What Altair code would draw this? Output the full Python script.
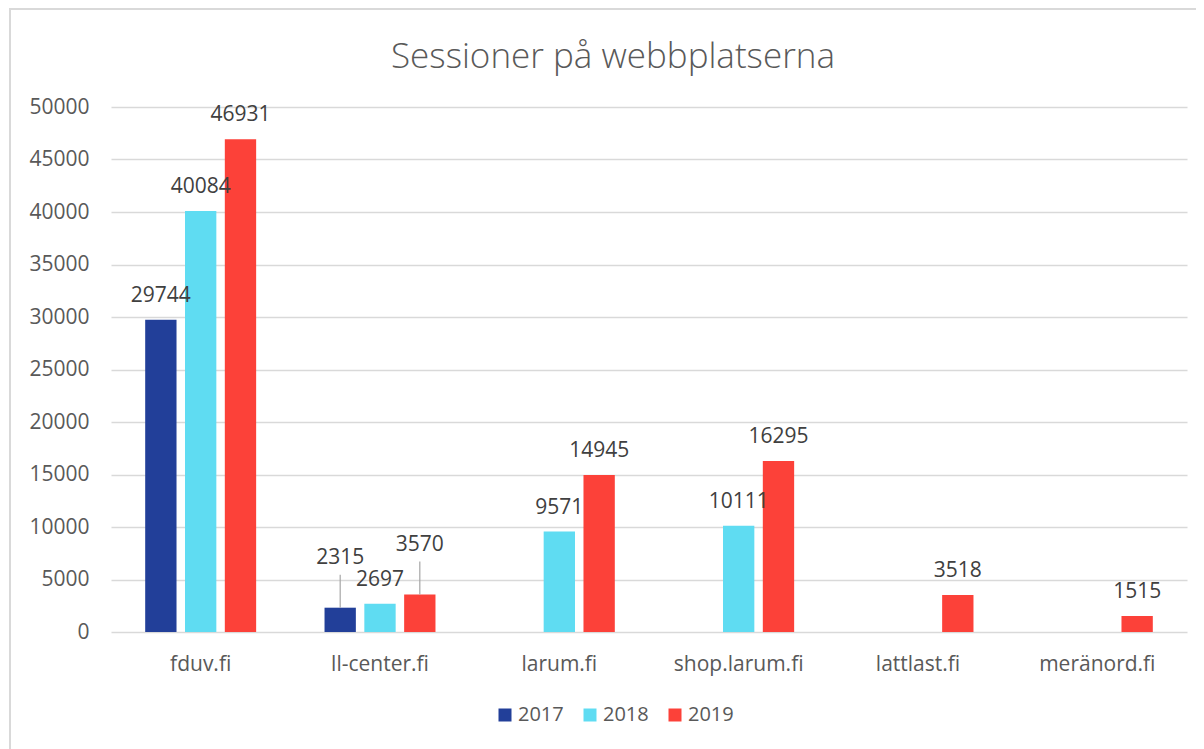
import altair as alt
import pandas as pd

sites = ["fduv.fi", "ll-center.fi", "larum.fi", "shop.larum.fi", "lattlast.fi", "meränord.fi"]
years = ["2017", "2018", "2019"]
s2017 = [29744, 2315, None, None, None, None]
s2018 = [40084, 2697, 9571, 10111, None, None]
s2019 = [46931, 3570, 14945, 16295, 3518, 1515]
y_ticks = [0, 5000, 10000, 15000, 20000, 25000, 30000, 35000, 40000, 45000, 50000]
colors = ["#223F99", "#5FDCF2", "#FC4139"]
title_text = "Sessioner på webbplatserna"
# labels that Excel moved up with a leader line
leader_labels = [("ll-center.fi", "2017"), ("ll-center.fi", "2019")]

rows = []
for i, site in enumerate(sites):
    for yr, vals in zip(years, [s2017, s2018, s2019]):
        v = vals[i]
        if v is not None:
            rows.append({"site": site, "year": yr, "value": v,
                         "leader": (site, yr) in leader_labels})
df = pd.DataFrame(rows)

FONT = "Open Sans"

base = alt.Chart(df).encode(
    x=alt.X("site:N", sort=sites, title=None,
            scale=alt.Scale(paddingInner=0.334, paddingOuter=0.167),
            axis=alt.Axis(labelAngle=0, ticks=False, domain=False, labelFontSize=21,
                          labelColor="#595959", labelPadding=21, labelFont=FONT)),
    xOffset=alt.XOffset("year:N", sort=years,
                        scale=alt.Scale(paddingInner=0.213, paddingOuter=0.1065)),
    y=alt.Y("value:Q", title=None,
            scale=alt.Scale(domain=[0, 50000], nice=False),
            axis=alt.Axis(values=y_ticks, format="d", ticks=False, domain=False,
                          gridColor="#d9d9d9", gridWidth=1.5, labelFontSize=21,
                          labelColor="#595959", labelPadding=22, labelFont=FONT)),
)

bars = base.mark_bar().encode(
    color=alt.Color("year:N", sort=years, scale=alt.Scale(domain=years, range=colors),
                    legend=alt.Legend(title=None, orient="none", direction="horizontal",
                                      legendX=384, legendY=598, symbolType="square",
                                      symbolSize=169, symbolStrokeWidth=0,
                                      labelFontSize=20, labelColor="#595959",
                                      labelFont=FONT, labelOffset=3, columnPadding=16))
)

labels = base.transform_filter("!datum.leader").mark_text(
    dy=-18, baseline="alphabetic", fontSize=21, color="#404040", font=FONT
).encode(text=alt.Text("value:Q", format="d"))

raised = base.transform_filter("datum.leader").mark_text(
    dy=-44, baseline="alphabetic", fontSize=21, color="#404040", font=FONT
).encode(text=alt.Text("value:Q", format="d"))

leaders = base.transform_filter("datum.leader").mark_rule(
    color="#a6a6a6", strokeWidth=1.2, y2Offset=-33
).encode(y2="value:Q")

frame_df = pd.DataFrame({"t": [title_text]})
top_border = alt.Chart(frame_df).mark_rule(color="#d9d9d9", strokeWidth=2).encode(
    x=alt.value(-101), x2=alt.value(1100), y=alt.value(-98))
left_border = alt.Chart(frame_df).mark_rule(color="#d9d9d9", strokeWidth=2).encode(
    x=alt.value(-101), y=alt.value(-99), y2=alt.value(650))
title = alt.Chart(frame_df).mark_text(
    fontSize=35, fontWeight=300, color="#595959", font=FONT,
    align="center", baseline="alphabetic"
).encode(x=alt.value(502), y=alt.value(-39), text="t:N")

chart = alt.layer(top_border, left_border, title, bars, leaders, labels, raised).properties(
    width=1076, height=525,
    padding={"left": 103, "top": 99, "right": 9, "bottom": 117},
    autosize=alt.AutoSizeParams(type="none"),
).configure_view(stroke=None)

chart.save("out.html", embed_options={"renderer": "svg", "actions": False})
